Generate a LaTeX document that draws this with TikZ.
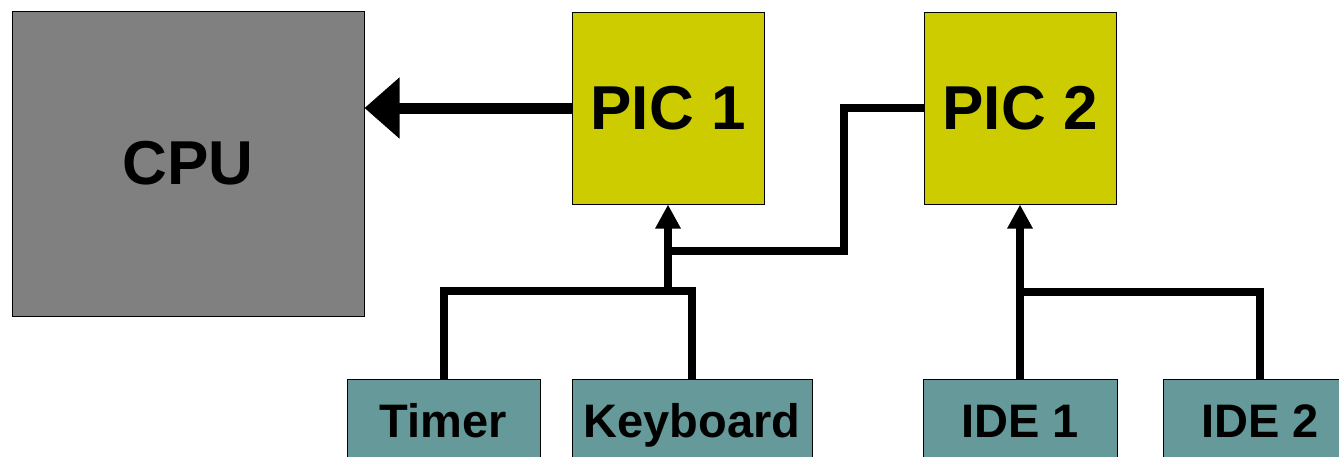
\documentclass[tikz,border=0pt]{standalone}
\usepackage{fontspec}
\setmainfont{Liberation Sans}
\usetikzlibrary{arrows.meta}
\definecolor{cpugray}{HTML}{808080}
\definecolor{picyellow}{HTML}{CCCC00}
\definecolor{devteal}{HTML}{669999}
\tikzset{
  unit/.style={draw=black, line width=1pt, inner sep=0pt, font=\bfseries},
  cpubox/.style={unit, fill=cpugray, minimum width=352pt, minimum height=305pt, font=\bfseries\fontsize{62}{70}\selectfont},
  picbox/.style={unit, fill=picyellow, minimum width=192pt, minimum height=192pt, font=\bfseries\fontsize{62}{70}\selectfont},
  devbox/.style={unit, fill=devteal, minimum height=82pt, text height=34pt, text depth=0pt, font=\bfseries\fontsize{47}{54}\selectfont},
  wire/.style={line width=8pt, black},
  irq/.style={wire, -{Triangle[length=24pt,width=24pt]}},
  intr/.style={line width=11pt, black, -{Triangle[length=35pt,width=59pt]}}
}
\begin{document}
\begin{tikzpicture}[x=1pt, y=-1pt]
  \useasboundingbox (0,0) rectangle (1339,456);
  \clip (0,0) rectangle (1339,456);
  \fill[white] (0,0) rectangle (1339,456);

  % processor and the two interrupt controllers
  \node[cpubox] (cpu) at (188,163.5) {CPU};
  \node[picbox] (pic1) at (668,108) {PIC 1};
  \node[picbox] (pic2) at (1020,108) {PIC 2};

  % devices raising interrupts
  \node[devbox, minimum width=193pt] (timer) at (443.5,420) {Timer};
  \node[devbox, minimum width=240pt] (kbd) at (692,420) {Keyboard};
  \node[devbox, minimum width=194pt] (ide1) at (1020,420) {IDE 1};
  \node[devbox, minimum width=194pt] (ide2) at (1260,420) {IDE 2};

  % junction points of the interrupt lines
  \coordinate (j1) at (668,291);
  \coordinate (j2) at (1020,292);
  \coordinate (k1) at (844,251);
  \coordinate (k2) at (668,251);

  % master controller to the processor
  \draw[intr] (pic1.west) -- (pic1.west -| cpu.east);

  % timer and keyboard into PIC 1
  \draw[wire] (timer.north) |- (j1) -| (kbd.north);
  \draw[irq] (j1) -- (pic1.south);

  % cascade from PIC 2 into PIC 1
  \draw[wire] (pic2.west) -| (k1) -- (k2);

  % IDE channels into PIC 2
  \draw[irq] (ide1.north) -- (pic2.south);
  \draw[wire] (j2) -| (ide2.north);
\end{tikzpicture}
\end{document}
